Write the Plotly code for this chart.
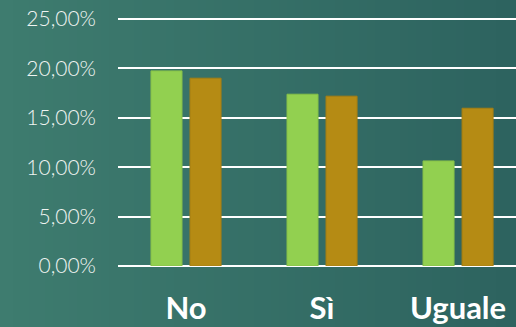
import base64
import struct
import zlib

import plotly.graph_objects as go

# Survey answers and the two series shown for each answer (percent)
categories = ["No", "Sì", "Uguale"]
series_a = [19.74, 17.38, 10.63]
series_b = [19.00, 17.18, 15.96]
y_ticks = [0, 5, 10, 15, 20, 25]
y_tick_labels = ["0,00%", "5,00%", "10,00%", "15,00%", "20,00%", "25,00%"]

W, H = 516, 327
M_L, M_R, M_T, M_B = 118, 0, 9, 61


def gradient_png(c0, c1, n=64):
    """Tiny horizontal gradient PNG returned as a data URI."""
    row = b"\x00"
    for i in range(n):
        t = i / (n - 1)
        row += bytes(round(a + (b - a) * t) for a, b in zip(c0, c1))

    def chunk(tag, data):
        c = tag + data
        return struct.pack(">I", len(data)) + c + struct.pack(">I", zlib.crc32(c) & 0xFFFFFFFF)

    png = b"\x89PNG\r\n\x1a\n"
    png += chunk(b"IHDR", struct.pack(">IIBBBBB", n, 1, 8, 2, 0, 0, 0))
    png += chunk(b"IDAT", zlib.compress(row))
    png += chunk(b"IEND", b"")
    return "data:image/png;base64," + base64.b64encode(png).decode()


bg_left = (62, 124, 111)
bg_right = (45, 99, 95)

fig = go.Figure()
fig.add_trace(go.Bar(
    x=categories, y=series_a,
    marker=dict(color="#92d050", line=dict(color="#86c048", width=1)),
))
fig.add_trace(go.Bar(
    x=categories, y=series_b,
    marker=dict(color="#b58b14", line=dict(color="#a67f12", width=1)),
))

pw = W - M_L - M_R
ph = H - M_T - M_B
fig.add_layout_image(dict(
    source=gradient_png(bg_left, bg_right),
    xref="paper", yref="paper",
    x=-M_L / pw, y=1 + M_T / ph,
    sizex=W / pw, sizey=H / ph,
    xanchor="left", yanchor="top",
    sizing="stretch", layer="below",
))

fig.update_layout(
    width=W, height=H,
    margin=dict(l=M_L, r=M_R, t=M_T, b=M_B, pad=0),
    paper_bgcolor="rgb(54,112,104)",
    plot_bgcolor="rgba(0,0,0,0)",
    barmode="group",
    bargap=0.426,
    bargroupgap=0.205,
    showlegend=False,
    xaxis=dict(
        range=[-0.5, 2.426],
        showgrid=False, zeroline=False, showline=False,
        ticks="",
        ticklabelstandoff=21,
        tickfont=dict(family="Lato, 'Open Sans', sans-serif", size=31,
                      color="#ffffff", weight="bold"),
    ),
    yaxis=dict(
        range=[0, 26],
        tickvals=y_ticks, ticktext=y_tick_labels,
        showgrid=True, gridcolor="#ffffff", gridwidth=2,
        zeroline=True, zerolinecolor="#ffffff", zerolinewidth=2,
        showline=False, ticks="",
        ticklabelstandoff=21,
        tickfont=dict(family="Lato, 'Open Sans', sans-serif", size=21,
                      color="#f0f4f2", weight=300),
    ),
)

fig.write_html("out.html")
